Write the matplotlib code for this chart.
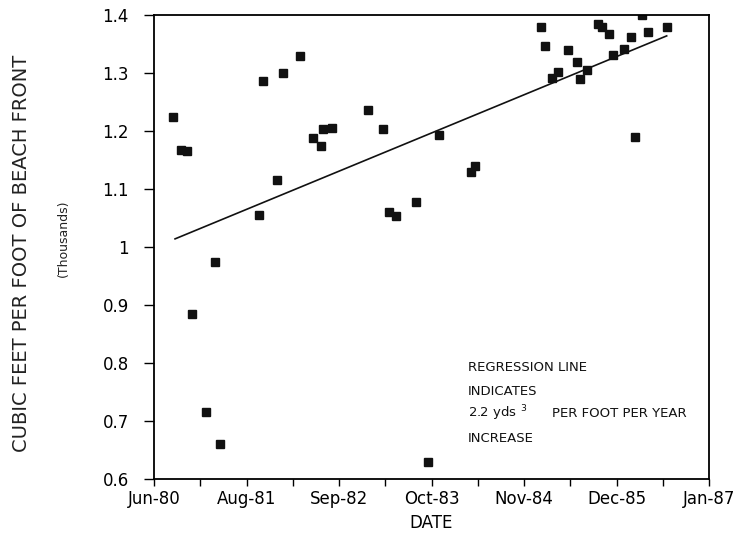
import datetime as dt
import numpy as np
import matplotlib
matplotlib.use("Agg")
import matplotlib.pyplot as plt
import matplotlib.dates as mdates
from matplotlib.ticker import FuncFormatter, FixedLocator, MultipleLocator

# survey dates, given as days after 28 Jun 1980 (left end of the date axis)
start = dt.datetime(1980, 6, 28)
days = [84, 115, 144, 163, 225, 264, 285, 455, 470, 531, 557, 631, 686, 721,
        732, 768, 927, 989, 1017, 1046, 1133, 1186, 1234, 1369, 1388, 1673,
        1691, 1720, 1748, 1792, 1828, 1842, 1871, 1921, 1936, 1967, 1986,
        2034, 2063, 2079, 2109, 2135, 2220]
# cubic feet per foot of beach front (thousands)
volume = [1.225, 1.167, 1.166, 0.885, 0.715, 0.975, 0.660, 1.056, 1.287,
          1.116, 1.300, 1.329, 1.188, 1.175, 1.203, 1.205, 1.236, 1.203,
          1.061, 1.053, 1.078, 0.629, 1.193, 1.129, 1.139, 1.380, 1.346,
          1.291, 1.301, 1.340, 1.319, 1.289, 1.305, 1.384, 1.380, 1.367,
          1.331, 1.341, 1.362, 1.189, 1.400, 1.370, 1.380]

# regression line end points
line_days = [91, 2217]
line_vals = [1.014, 1.364]

x0 = mdates.date2num(start)
x = x0 + np.array(days)
lx = x0 + np.array(line_days)

fig = plt.figure(figsize=(7.44, 5.34), dpi=100)
ax = fig.add_axes([154 / 744, 1 - 479 / 534, 555 / 744, 464 / 534])

ax.plot(x, volume, ls="none", marker="s", ms=5.5, color="#111111")
ax.plot(lx, line_vals, color="#111111", lw=1.2)

ax.set_xlim(x0, x0 + 2400)
ax.set_ylim(0.6, 1.4)
ax.xaxis.set_major_locator(FixedLocator(x0 + np.arange(0, 2401, 400)))
ax.xaxis.set_minor_locator(FixedLocator(x0 + np.arange(200, 2400, 400)))
ax.xaxis.set_major_formatter(FuncFormatter(
    lambda v, p: mdates.num2date(v).strftime("%b-%y")))
ax.yaxis.set_major_locator(MultipleLocator(0.1))
ax.yaxis.set_major_formatter(FuncFormatter(lambda v, p: "%g" % round(v, 1)))

ax.tick_params(axis="y", direction="out", length=7, width=1, pad=11,
               labelsize=12)
ax.tick_params(axis="x", which="both", direction="out", length=5, width=1,
               pad=3, labelsize=12)
for s in ax.spines.values():
    s.set_linewidth(1.3)

ax.set_xlabel("DATE", fontsize=12, labelpad=4)
fig.text(22 / 744, 1 - 253 / 534, "CUBIC FEET PER FOOT OF BEACH FRONT",
         rotation=90, ha="center", va="center", fontsize=14, color="#222222")
fig.text(63 / 744, 1 - 238 / 534, "(Thousands)", rotation=90,
         ha="center", va="center", fontsize=9, color="#222222")

note = dict(transform=ax.transAxes, ha="left", va="center", fontsize=9.5,
            color="#111111")
ax.text(0.566, 0.241, "REGRESSION LINE", **note)
ax.text(0.566, 0.188, "INDICATES", **note)
ax.text(0.566, 0.142, r"2.2 yds $^{3}$", **note)
ax.text(0.718, 0.142, "PER FOOT PER YEAR", **note)
ax.text(0.566, 0.088, "INCREASE", **note)

fig.savefig("out.png", dpi=100)
